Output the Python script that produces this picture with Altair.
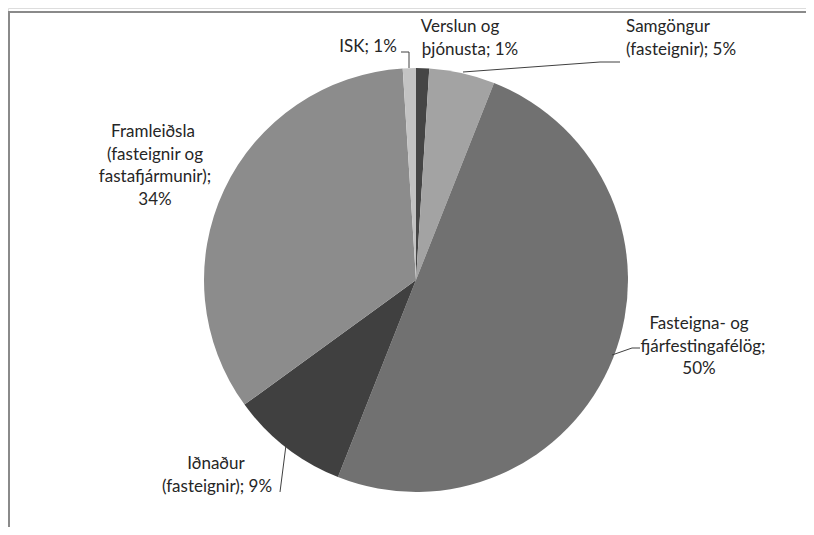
import altair as alt
import pandas as pd

# ---- data ----
categories = ["Verslun og þjónusta", "Samgöngur (fasteignir)", "Fasteigna- og fjárfestingafélög",
              "Iðnaður (fasteignir)", "Framleiðsla (fasteignir og fastafjármunir)", "ISK"]
values = [1, 5, 50, 9, 34, 1]
colors = ["#454545", "#a3a3a3", "#717171", "#404040", "#8c8c8c", "#c3c3c3"]

# label text lines per category
label_lines = [
    ["Verslun og", "þjónusta; 1%"],
    ["Samgöngur", "(fasteignir); 5%"],
    ["Fasteigna- og", "fjárfestingafélög;", "50%"],
    ["Iðnaður", "(fasteignir); 9%"],
    ["Framleiðsla", "(fasteignir og", "fastafjármunir);", "34%"],
    ["ISK; 1%"],
]

# ---- layout (chart pixel coordinates) ----
W, H = 798, 519
CX, CY, R = 408, 272, 212
LINE_H = 22.5
# first-line centre of each label block, per line x centres
label_anchor = [
    ([452, 462], 19),
    ([660, 673], 19),
    ([691, 695, 691], 316),
    ([208, 209], 456),
    ([145, 147, 147, 147], 124),
    ([360], 39),
]
leaders = [
    [(455, 64), (592, 54), (612, 54)],
    [(393, 44), (401, 44), (401, 60)],
    [(604, 347), (624, 340), (632, 340)],
    [(278, 437), (272, 484)],
]

pie_df = pd.DataFrame({"cat": categories, "val": values, "idx": list(range(len(values)))})

text_rows = []
for ci, lines in enumerate(label_lines):
    xs, y0 = label_anchor[ci]
    for li, line in enumerate(lines):
        text_rows.append({"t": line, "x": xs[li], "y": y0 + li * LINE_H})
text_df = pd.DataFrame(text_rows)

lead_rows = []
for gi, pts in enumerate(leaders):
    for pi, (x, y) in enumerate(pts):
        lead_rows.append({"g": gi, "o": pi, "x": x, "y": y})
lead_df = pd.DataFrame(lead_rows)

pie = alt.Chart(pie_df).mark_arc(outerRadius=R).encode(
    theta=alt.Theta("val:Q", stack=True),
    order=alt.Order("idx:Q"),
    color=alt.Color("cat:N", scale=alt.Scale(domain=categories, range=colors), legend=None),
    x=alt.value(CX),
    y=alt.value(CY),
)

texts = alt.Chart(text_df).mark_text(font="Lato", fontSize=17, color="#262626",
                                      align="center", baseline="middle").encode(
    x=alt.X("x:Q", scale=None),
    y=alt.Y("y:Q", scale=None),
    text="t:N",
)

lines = alt.Chart(lead_df).mark_line(color="#404040", strokeWidth=1).encode(
    x=alt.X("x:Q", scale=None),
    y=alt.Y("y:Q", scale=None),
    detail="g:N",
    order="o:Q",
)

frame_top = alt.Chart(pd.DataFrame({"a": [0]})).mark_rule(color="#8a8a8a", strokeWidth=2).encode(
    x=alt.value(0), x2=alt.value(W), y=alt.value(4))
frame_left = alt.Chart(pd.DataFrame({"a": [0]})).mark_rule(color="#8a8a8a", strokeWidth=2).encode(
    x=alt.value(1), y=alt.value(3), y2=alt.value(H))

chart = alt.layer(frame_top, frame_left, pie, lines, texts).properties(
    width=W, height=H, autosize=alt.AutoSizeParams(type="none"), padding=0
).configure_view(stroke=None).configure(background="white")

chart.save("out.html", embed_options={"renderer": "svg", "actions": False})
